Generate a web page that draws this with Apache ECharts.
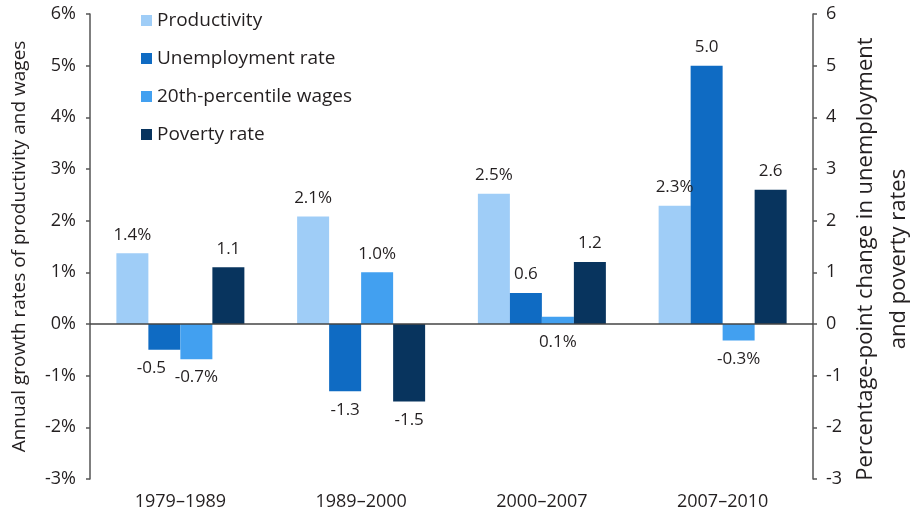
<!DOCTYPE html>
<html>
<head>
<meta charset="utf-8">
<script src="https://cdn.jsdelivr.net/npm/echarts@6/dist/echarts.min.js"></script>
<style>
  html, body { margin: 0; padding: 0; background: #fff; }
  #chart { width: 910px; height: 517px; }
</style>
</head>
<body>
<div id="chart"></div>
<script>
// periods on the x axis
var periods = ['1979–1989', '1989–2000', '2000–2007', '2007–2010'];

// left axis: annual growth rates (%)
var productivity = [1.37, 2.08, 2.52, 2.29];
var wages20th = [-0.68, 1.0, 0.14, -0.32];

// right axis: percentage-point change
var unemployment = [-0.5, -1.3, 0.6, 5.0];
var poverty = [1.1, -1.5, 1.2, 2.6];

var font = 'Open Sans';
var txt = '#231f20';

function pctLabel(p) { return p.value.toFixed(1) + '%'; }
function ptLabel(p) { return p.value.toFixed(1); }

// tiny bars get their label under the zero line, like the original
function labelFor(v, fmt) {
    return {
        show: true,
        position: v >= 0.2 ? 'top' : 'bottom',
        distance: 10,
        formatter: fmt,
        color: txt,
        fontFamily: font,
        fontSize: 17
    };
}

function makeData(arr, fmt) {
    return arr.map(function (v) {
        return { value: v, label: labelFor(v, fmt) };
    });
}

var unempData = makeData(unemployment, ptLabel);
// the first -0.5 label is nudged left so it doesn't run into -0.7%
unempData[0].label.offset = [-13, 0];

var myChart = echarts.init(document.getElementById('chart'));
myChart.setOption({
    animation: false,
    textStyle: { fontFamily: font },
    grid: { left: 90, right: 97, top: 14, bottom: 38, containLabel: false, outerBoundsMode: 'none' },
    legend: {
        orient: 'vertical',
        left: 136,
        top: 6,
        itemWidth: 11,
        itemHeight: 11,
        itemGap: 19,
        icon: 'rect',
        textStyle: { fontFamily: font, fontSize: 19, lineHeight: 19, color: txt },
        data: ['Productivity', 'Unemployment rate', '20th-percentile wages', 'Poverty rate']
    },
    // right-hand title sits a little below the axis middle in the original
    graphic: [{
        type: 'text',
        x: 882,
        y: 259,
        rotation: Math.PI / 2,
        style: {
            text: 'Percentage-point change in unemployment\nand poverty rates',
            fill: txt,
            font: '22px "Open Sans"',
            lineHeight: 33,
            align: 'center',
            verticalAlign: 'middle'
        }
    }],
    xAxis: {
        type: 'category',
        data: periods,
        axisLine: { show: false },
        axisTick: { show: false },
        axisLabel: { color: txt, fontSize: 18, fontFamily: font, margin: 14 }
    },
    yAxis: [
        {
            type: 'value',
            min: -3, max: 6, interval: 1,
            name: 'Annual growth rates of productivity and wages',
            nameLocation: 'middle',
            nameGap: 61,
            nameTextStyle: { color: txt, fontSize: 19, fontFamily: font },
            axisLine: { show: true, lineStyle: { color: '#555', width: 1.5 } },
            axisTick: { show: true, length: 4, lineStyle: { color: '#555', width: 1.5 } },
            axisLabel: { formatter: '{value}%', color: txt, fontSize: 18, fontFamily: font, margin: 14 },
            splitLine: { show: false }
        },
        {
            type: 'value',
            min: -3, max: 6, interval: 1,
            axisLine: { show: true, lineStyle: { color: '#555', width: 1.5 } },
            axisTick: { show: true, length: 4, lineStyle: { color: '#555', width: 1.5 } },
            axisLabel: { color: txt, fontSize: 18, fontFamily: font, margin: 13 },
            splitLine: { show: false }
        }
    ],
    series: [
        {
            name: 'Productivity',
            type: 'bar',
            yAxisIndex: 0,
            barWidth: 32,
            barGap: '0%',
            itemStyle: { color: '#9fcdf7' },
            data: makeData(productivity, pctLabel),
            markLine: {
                silent: true,
                symbol: 'none',
                label: { show: false },
                lineStyle: { color: '#444', width: 1.5, type: 'solid' },
                data: [{ yAxis: 0 }]
            }
        },
        {
            name: 'Unemployment rate',
            type: 'bar',
            yAxisIndex: 1,
            barWidth: 32,
            barGap: '0%',
            itemStyle: { color: '#0f6bc3' },
            data: unempData
        },
        {
            name: '20th-percentile wages',
            type: 'bar',
            yAxisIndex: 0,
            barWidth: 32,
            barGap: '0%',
            itemStyle: { color: '#42a0f0' },
            data: makeData(wages20th, pctLabel)
        },
        {
            name: 'Poverty rate',
            type: 'bar',
            yAxisIndex: 1,
            barWidth: 32,
            barGap: '0%',
            itemStyle: { color: '#08345e' },
            data: makeData(poverty, ptLabel)
        }
    ]
});
</script>
</body>
</html>
